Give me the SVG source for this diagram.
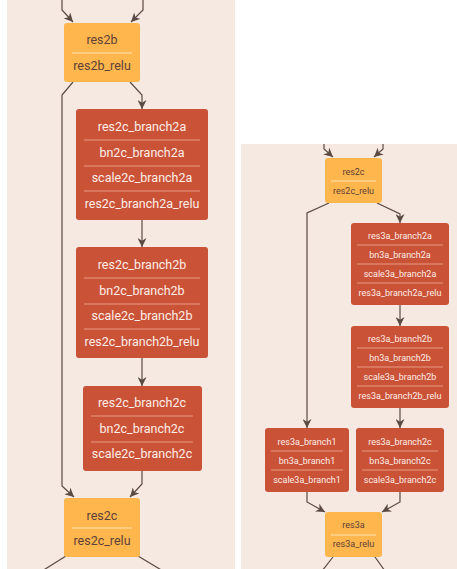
<svg xmlns="http://www.w3.org/2000/svg" width="457" height="569" viewBox="0 0 457 569">
<style>
.bg{fill:#f5e9e1}
.or{fill:#ffb74d}
.rd{fill:#ca5237}
.tl{font-family:Roboto,"Liberation Sans",sans-serif;font-size:12.5px;text-anchor:middle}
.ts{font-family:Roboto,"Liberation Sans",sans-serif;font-size:9px;text-anchor:middle}
.to{fill:#5d4037}
.tr{fill:#fdeee8}
.dvo{stroke:#ffe3b8;stroke-width:1}
.dvr{stroke:#e89a85;stroke-width:1}
.ln{fill:none;stroke:#5b4a42;stroke-width:1.2}
.ar{marker-end:url(#ah)}
</style>
<defs>
<marker id="ah" viewBox="0 0 10 10" refX="10" refY="5" markerWidth="9" markerHeight="9" markerUnits="userSpaceOnUse" orient="auto">
<path d="M0,0 L10,5 L0,10 L3,5 z" fill="#5b4a42"/>
</marker>
</defs>
<rect class="bg" x="7" y="0" width="228" height="569"/>
<rect class="bg" x="241" y="144" width="216" height="425"/>
<g id="connectors">
<path class="ln ar" d="M62,0 L62,10 L73,22"/>
<path class="ln ar" d="M143,0 L143,10 L131,22"/>
<path class="ln ar" d="M73,82 L62,95 L62,486 L74,497"/>
<path class="ln ar" d="M130,82 L142,95 L142,109"/>
<path class="ln ar" d="M142,220 L142,247"/>
<path class="ln ar" d="M142,358 L142,386"/>
<path class="ln ar" d="M142,471 L142,484 L130,497"/>
<path class="ln" d="M66,556 L42,571"/>
<path class="ln" d="M138,556 L163,571"/>
<path class="ln ar" d="M324,144 L324,149 L333,157"/>
<path class="ln ar" d="M383,144 L383,149 L374,157"/>
<path class="ln ar" d="M329,203 L307,213 L307,428"/>
<path class="ln ar" d="M377,203 L400,214 L400,223"/>
<path class="ln ar" d="M400,305 L400,326"/>
<path class="ln ar" d="M400,408 L400,428"/>
<path class="ln ar" d="M307,492 L307,502 L325,512"/>
<path class="ln ar" d="M400,492 L400,502 L382,512"/>
<path class="ln" d="M333,557 L322,571"/>
<path class="ln" d="M375,557 L385,571"/>
</g>
<g id="res2b">
<rect class="or" x="64" y="23" width="76" height="59" rx="3"/>
<text class="tl to" x="102" y="44">res2b</text>
<line class="dvo" x1="72" y1="53" x2="132" y2="53"/>
<text class="tl to" x="102" y="70">res2b_relu</text>
</g>
<g id="res2c_branch2a">
<rect class="rd" x="76" y="109" width="132" height="111" rx="3"/>
<text class="tl tr" x="142" y="131">res2c_branch2a</text>
<line class="dvr" x1="84" y1="140" x2="200" y2="140"/>
<text class="tl tr" x="142" y="157">bn2c_branch2a</text>
<line class="dvr" x1="84" y1="166" x2="200" y2="166"/>
<text class="tl tr" x="142" y="182">scale2c_branch2a</text>
<line class="dvr" x1="84" y1="191" x2="200" y2="191"/>
<text class="tl tr" x="142" y="208">res2c_branch2a_relu</text>
</g>
<g id="res2c_branch2b">
<rect class="rd" x="76" y="247" width="132" height="111" rx="3"/>
<text class="tl tr" x="142" y="269">res2c_branch2b</text>
<line class="dvr" x1="84" y1="278" x2="200" y2="278"/>
<text class="tl tr" x="142" y="295">bn2c_branch2b</text>
<line class="dvr" x1="84" y1="304" x2="200" y2="304"/>
<text class="tl tr" x="142" y="320">scale2c_branch2b</text>
<line class="dvr" x1="84" y1="329" x2="200" y2="329"/>
<text class="tl tr" x="142" y="346">res2c_branch2b_relu</text>
</g>
<g id="res2c_branch2c">
<rect class="rd" x="83" y="386" width="119" height="85" rx="3"/>
<text class="tl tr" x="142" y="407">res2c_branch2c</text>
<line class="dvr" x1="91" y1="416" x2="193" y2="416"/>
<text class="tl tr" x="142" y="433">bn2c_branch2c</text>
<line class="dvr" x1="91" y1="442" x2="193" y2="442"/>
<text class="tl tr" x="142" y="458">scale2c_branch2c</text>
</g>
<g id="res2c">
<rect class="or" x="64" y="498" width="76" height="59" rx="3"/>
<text class="tl to" x="102" y="520">res2c</text>
<line class="dvo" x1="72" y1="528" x2="132" y2="528"/>
<text class="tl to" x="102" y="545">res2c_relu</text>
</g>
<g id="res2c_r">
<rect class="or" x="325" y="158" width="57" height="45" rx="3"/>
<text class="ts to" x="353.5" y="175">res2c</text>
<line class="dvo" x1="331" y1="181" x2="376" y2="181"/>
<text class="ts to" x="353.5" y="194">res2c_relu</text>
</g>
<g id="res3a_branch2a">
<rect class="rd" x="351" y="223" width="98" height="82" rx="3"/>
<text class="ts tr" x="400" y="239">res3a_branch2a</text>
<line class="dvr" x1="357" y1="245" x2="443" y2="245"/>
<text class="ts tr" x="400" y="258">bn3a_branch2a</text>
<line class="dvr" x1="357" y1="264" x2="443" y2="264"/>
<text class="ts tr" x="400" y="277">scale3a_branch2a</text>
<line class="dvr" x1="357" y1="283" x2="443" y2="283"/>
<text class="ts tr" x="400" y="296">res3a_branch2a_relu</text>
</g>
<g id="res3a_branch2b">
<rect class="rd" x="351" y="326" width="98" height="82" rx="3"/>
<text class="ts tr" x="400" y="342">res3a_branch2b</text>
<line class="dvr" x1="357" y1="348" x2="443" y2="348"/>
<text class="ts tr" x="400" y="361">bn3a_branch2b</text>
<line class="dvr" x1="357" y1="367" x2="443" y2="367"/>
<text class="ts tr" x="400" y="380">scale3a_branch2b</text>
<line class="dvr" x1="357" y1="386" x2="443" y2="386"/>
<text class="ts tr" x="400" y="399">res3a_branch2b_relu</text>
</g>
<g id="res3a_branch1">
<rect class="rd" x="265" y="428" width="84" height="64" rx="3"/>
<text class="ts tr" x="307" y="445">res3a_branch1</text>
<line class="dvr" x1="271" y1="451" x2="343" y2="451"/>
<text class="ts tr" x="307" y="464">bn3a_branch1</text>
<line class="dvr" x1="271" y1="470" x2="343" y2="470"/>
<text class="ts tr" x="307" y="483">scale3a_branch1</text>
</g>
<g id="res3a_branch2c">
<rect class="rd" x="356" y="428" width="88" height="64" rx="3"/>
<text class="ts tr" x="400" y="445">res3a_branch2c</text>
<line class="dvr" x1="362" y1="451" x2="438" y2="451"/>
<text class="ts tr" x="400" y="464">bn3a_branch2c</text>
<line class="dvr" x1="362" y1="470" x2="438" y2="470"/>
<text class="ts tr" x="400" y="483">scale3a_branch2c</text>
</g>
<g id="res3a">
<rect class="or" x="325" y="512" width="57" height="45" rx="3"/>
<text class="ts to" x="353.5" y="528">res3a</text>
<line class="dvo" x1="331" y1="535" x2="376" y2="535"/>
<text class="ts to" x="353.5" y="547">res3a_relu</text>
</g>
</svg>
